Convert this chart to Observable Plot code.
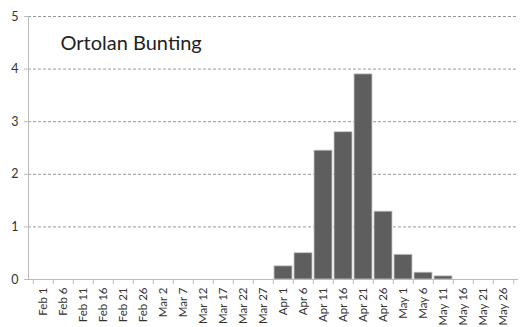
<!DOCTYPE html>
<html><head><meta charset="utf-8">
<script src="https://cdn.jsdelivr.net/npm/d3@7"></script>
<script src="https://cdn.jsdelivr.net/npm/@observablehq/plot@0.6"></script>
<style>body{margin:0;background:#fff}#c{width:520px;height:327px}</style>
</head><body><div id="c"></div>
<script>
const categories = ["Feb 1","Feb 6","Feb 11","Feb 16","Feb 21","Feb 26","Mar 2","Mar 7","Mar 12","Mar 17","Mar 22","Mar 27","Apr 1","Apr 6","Apr 11","Apr 16","Apr 21","Apr 26","May 1","May 6","May 11","May 16","May 21","May 26"];
const values = [0,0,0,0,0,0,0,0,0,0,0,0,0.25,0.5,2.45,2.8,3.9,1.29,0.47,0.13,0.06,0,0,0];
const yTicks = [0,1,2,3,4,5];
const title = "Ortolan Bunting";

const data = categories.map((c,i)=>({cat:c, v:values[i]}));
const W = 520, H = 327, mL = 28, mR = 2, mT = 16, mB = 48;
const step = (W - mL - mR) / categories.length;
const font = "Lato, 'Open Sans', sans-serif";

const chart = Plot.plot({
  width: W, height: H,
  marginLeft: mL, marginRight: mR, marginTop: mT, marginBottom: mB,
  style: {fontFamily: font, fontSize: "12px", color: "#333", background: "#fff"},
  x: {domain: categories, paddingInner: 0.12, paddingOuter: 0.06, label: null},
  y: {domain: [0,5], label: null},
  marks: [
    Plot.gridY(yTicks.filter(d=>d>0), {stroke:"#999", strokeOpacity:1, strokeDasharray:"3,2"}),
    Plot.axisY({ticks: yTicks, tickFormat: "d", tickSize: 4, tickPadding: 6, stroke:"#bbb", fill:"#333", fontSize: 12.5}),
    Plot.axisX({tickSize: 0, tickRotate: -90, tickPadding: 8, fill:"#333", fontSize: 11.5}),
    Plot.axisX({tickSize: 5, text: null, dx: -step/2, stroke:"#bbb"}),
    Plot.axisX({ticks: [categories[categories.length-1]], tickSize: 5, text: null, dx: step/2, stroke:"#bbb"}),
    Plot.barY(data, {x:"cat", y:"v", fill:"#5e5e5e", stroke:"#c8c8c8", strokeWidth:0.8}),
    Plot.frame({anchor:"left", stroke:"#bbb"}),
    Plot.ruleY([0], {stroke:"#bbb"}),
    Plot.text([title], {frameAnchor:"top-left", dx: 32, dy: 19, text: d=>d, fontSize: 20, fill:"#222", fontFamily: font})
  ]
});
document.getElementById("c").appendChild(chart);
</script></body></html>
